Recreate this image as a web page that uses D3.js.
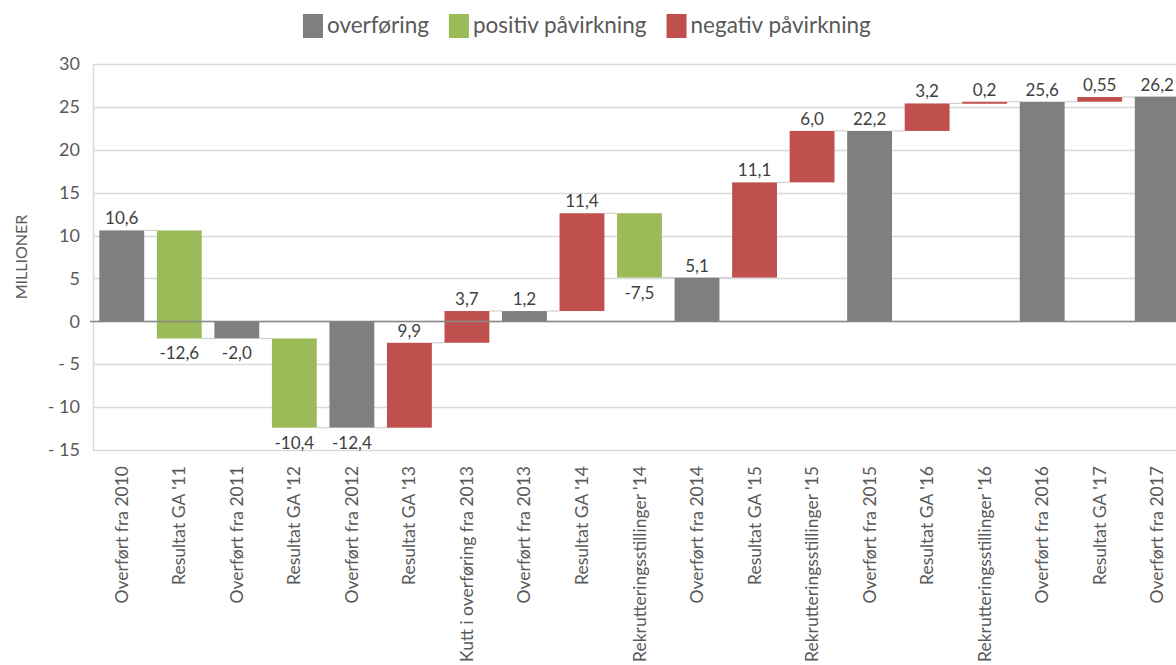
<!DOCTYPE html>
<html>
<head>
<meta charset="utf-8">
<script src="https://cdn.jsdelivr.net/npm/d3@7"></script>
<style>
  body { margin: 0; background: #fff; }
  text { font-family: Lato, "Open Sans", sans-serif; }
</style>
</head>
<body>
<svg id="chart" width="1176" height="665"></svg>
<script>
// waterfall data
var categories = ["Overført fra 2010", "Resultat GA '11", "Overført fra 2011", "Resultat GA '12",
    "Overført fra 2012", "Resultat GA '13", "Kutt i overføring fra 2013", "Overført fra 2013",
    "Resultat GA '14", "Rekrutteringsstillinger '14", "Overført fra 2014", "Resultat GA '15",
    "Rekrutteringsstillinger '15", "Overført fra 2015", "Resultat GA '16", "Rekrutteringsstillinger '16",
    "Overført fra 2016", "Resultat GA '17", "Overført fra 2017"];
var values = [10.6, -12.6, -2.0, -10.4, -12.4, 9.9, 3.7, 1.2, 11.4, -7.5, 5.1, 11.1, 6.0, 22.2, 3.2, 0.2, 25.6, 0.55, 26.2];
var kinds = ["total", "change", "total", "change", "total", "change", "change", "total", "change", "change",
    "total", "change", "change", "total", "change", "change", "total", "change", "total"];
var legendLabels = ["overføring", "positiv påvirkning", "negativ påvirkning"];
var yTicks = [-15, -10, -5, 0, 5, 10, 15, 20, 25, 30];

var colors = {total: "#7f7f7f", neg: "#9bbb59", pos: "#c0504d"};

var svg = d3.select("#chart"),
    margin = {left: 93, right: -10, top: 64, bottom: 215},
    width = +svg.attr("width"),
    height = +svg.attr("height");

var x = d3.scaleBand()
    .domain(categories)
    .range([margin.left, width - margin.right])
    .paddingInner(0.22)
    .paddingOuter(0.11);

var y = d3.scaleLinear()
    .domain([-15, 30])
    .range([height - margin.bottom, margin.top]);

var locale = d3.formatLocale({decimal: ",", thousands: " ", grouping: [3], currency: ["", ""], minus: "-"});
function fmtLabel(v) {
    var f = Math.abs(Math.round(v * 10) - v * 10) < 1e-9 ? ".1f" : ".2f";
    return locale.format(f)(v);
}

// running totals
var running = 0;
var bars = values.map(function(v, i) {
    var start, end;
    if (kinds[i] === "total") { start = 0; end = v; }
    else { start = running; end = running + v; }
    running = end;
    return {cat: categories[i], value: v, kind: kinds[i], start: start, end: end};
});

// gridlines
svg.append("g")
    .selectAll("line")
    .data(yTicks)
    .join("line")
    .attr("x1", margin.left)
    .attr("x2", width)
    .attr("y1", function(d) { return Math.round(y(d)) + 0.5; })
    .attr("y2", function(d) { return Math.round(y(d)) + 0.5; })
    .attr("stroke", "#d9d9d9")
    .attr("stroke-width", 1.5);

svg.append("line")
    .attr("x1", margin.left + 0.5).attr("x2", margin.left + 0.5)
    .attr("y1", y(30)).attr("y2", y(-15))
    .attr("stroke", "#d9d9d9").attr("stroke-width", 1.5);

// y axis labels
var yAxis = d3.axisLeft(y)
    .tickValues(yTicks)
    .tickSize(0)
    .tickPadding(13)
    .tickFormat(function(d) { return d < 0 ? "- " + Math.abs(d) : d; });

var ya = svg.append("g")
    .attr("transform", "translate(" + margin.left + ",0)")
    .call(yAxis);
ya.select(".domain").remove();
ya.selectAll("text")
    .attr("font-size", 18)
    .attr("font-family", "Lato")
    .attr("fill", "#595959");

svg.append("text")
    .attr("transform", "translate(27," + 257 + ") rotate(-90)")
    .attr("text-anchor", "middle")
    .attr("font-size", 16)
    .attr("fill", "#595959")
    .text("MILLIONER");

// connectors
var bw = x.bandwidth();
svg.append("g")
    .selectAll("line")
    .data(bars.slice(0, -1))
    .join("line")
    .attr("x1", function(d) { return x(d.cat) + bw; })
    .attr("x2", function(d, i) { return x(categories[i + 1]); })
    .attr("y1", function(d) { return y(d.end); })
    .attr("y2", function(d) { return y(d.end); })
    .attr("stroke", "#d0d0d0")
    .attr("stroke-width", 1.2);

// bars
svg.append("g")
    .selectAll("rect")
    .data(bars)
    .join("rect")
    .attr("x", function(d) { return x(d.cat); })
    .attr("width", bw)
    .attr("y", function(d) { return y(Math.max(d.start, d.end)); })
    .attr("height", function(d) { return Math.max(2, Math.abs(y(d.start) - y(d.end))); })
    .attr("fill", function(d) {
        if (d.kind === "total") return colors.total;
        return d.value > 0 ? colors.pos : colors.neg;
    });

// zero line
svg.append("line")
    .attr("x1", margin.left - 3)
    .attr("x2", width)
    .attr("y1", Math.round(y(0)) + 0.5)
    .attr("y2", Math.round(y(0)) + 0.5)
    .attr("stroke", "#868686")
    .attr("stroke-width", 1.5);

// value labels
svg.append("g")
    .selectAll("text")
    .data(bars)
    .join("text")
    .attr("x", function(d) { return x(d.cat) + bw / 2; })
    .attr("y", function(d) {
        return d.value >= 0 ? y(Math.max(d.start, d.end)) - 6 : y(Math.min(d.start, d.end)) + 21;
    })
    .attr("text-anchor", "middle")
    .attr("font-size", 17)
    .attr("fill", "#404040")
    .text(function(d) { return fmtLabel(d.value); });

// x labels
svg.append("g")
    .selectAll("text")
    .data(categories)
    .join("text")
    .attr("transform", function(d) {
        return "translate(" + (x(d) + bw / 2 + 6) + "," + 466 + ") rotate(-90)";
    })
    .attr("text-anchor", "end")
    .attr("font-size", 17.5)
    .attr("fill", "#595959")
    .text(function(d) { return d; });

// legend
var legendColors = [colors.total, colors.neg, colors.pos];
var lx = 303;
legendLabels.forEach(function(lab, i) {
    svg.append("rect")
        .attr("x", lx).attr("y", 14)
        .attr("width", 20).attr("height", 24)
        .attr("fill", legendColors[i]);
    var t = svg.append("text")
        .attr("x", lx + 24).attr("y", 33)
        .attr("font-size", 22.5)
        .attr("fill", "#595959")
        .text(lab);
    lx += 24 + t.node().getComputedTextLength() + 20;
});
</script>
</body>
</html>
